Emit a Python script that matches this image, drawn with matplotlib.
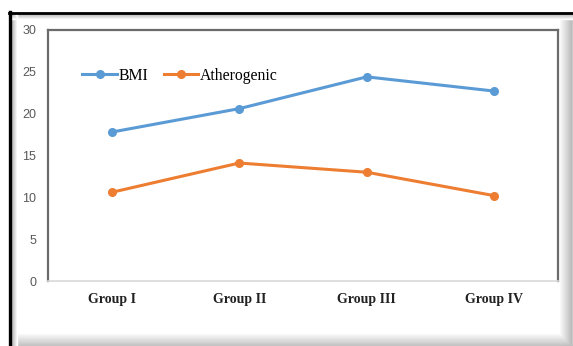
import matplotlib.pyplot as plt
import numpy as np
from matplotlib.lines import Line2D

groups = ["Group I", "Group II", "Group III", "Group IV"]
bmi = [17.8, 20.6, 24.4, 22.7]
atherogenic = [10.6, 14.1, 13.0, 10.2]
yticks = [0, 5, 10, 15, 20, 25, 30]

W, H = 573, 346
fig = plt.figure(figsize=(W / 100, H / 100), dpi=100)
fig.patch.set_facecolor("white")


def px_line(xs, ys, **kw):
    # line in pixel coordinates measured from the top-left corner
    fig.add_artist(Line2D([v / W for v in xs], [1 - v / H for v in ys],
                          transform=fig.transFigure, zorder=-1, **kw))


# picture frame: dark rule top/left, soft shadows along the inside
for i in range(12):
    t = i / 11
    px_line([561 + i] * 2, [13, H], color=str(0.97 - 0.25 * t), lw=1.1)
    px_line([12, 561 + i], [335 + i] * 2, color=str(0.97 - 0.22 * t), lw=1.1)
for i in range(6):
    g = str(0.72 + 0.28 * (i / 5))
    px_line([12 + i] * 2, [13, H], color=g, lw=1.0)
    px_line([12, W], [14 + i] * 2, color=g, lw=1.0)
px_line([10, 10], [12, H], color="black", lw=2.4)
px_line([9, W], [12.5, 12.5], color="black", lw=2.0)

ax = fig.add_axes([48 / W, (H - 281) / H, (558 - 48) / W, (281 - 30) / H])
x = np.arange(len(groups))
ax.plot(x, bmi, color="#5B9BD5", lw=2.2, marker="o", ms=5.5, label="BMI")
ax.plot(x, atherogenic, color="#ED7D31", lw=2.2, marker="o", ms=5.5,
        label="Atherogenic")

ax.set_xlim(-0.5, len(groups) - 0.5)
ax.set_ylim(0, 30)
ax.set_yticks(yticks)
ax.set_xticks(x)
ax.set_xticklabels(groups, family="Liberation Serif", fontweight="bold",
                   fontsize=10, color="#222222")
for lab in ax.get_yticklabels():
    lab.set_family("Liberation Sans")
    lab.set_fontsize(9)
    lab.set_color("#595959")
ax.tick_params(axis="both", length=0)
ax.tick_params(axis="y", pad=8.5)
ax.tick_params(axis="x", pad=9)

for side in ["top", "left", "right"]:
    ax.spines[side].set_color("#6b6b6b")
    ax.spines[side].set_linewidth(1.6)
ax.spines["bottom"].set_color("#d9d9d9")
ax.spines["bottom"].set_linewidth(1.2)

ax.legend(loc="upper left", bbox_to_anchor=(0.055, 0.875), ncol=2,
          frameon=False, prop={"family": "Liberation Serif", "size": 11.3},
          handlelength=2.2, handletextpad=0.1, columnspacing=1.0,
          borderaxespad=0)

fig.savefig("out.png", dpi=100)
